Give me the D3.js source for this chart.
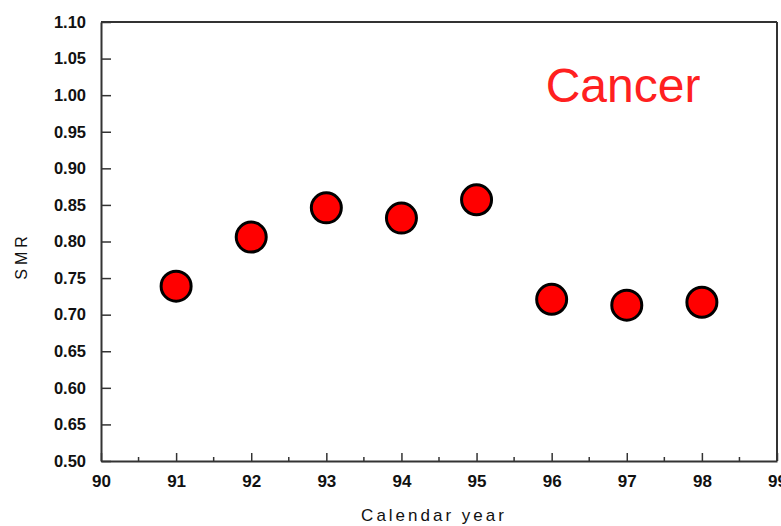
<!DOCTYPE html>
<html>
<head>
<meta charset="utf-8">
<script src="https://cdn.jsdelivr.net/npm/d3@7"></script>
<style>
  html, body { margin: 0; padding: 0; background: #fff; }
  svg { display: block; }
</style>
</head>
<body>
<div id="chart"></div>
<script>
const years = [91, 92, 93, 94, 95, 96, 97, 98];
const smr = [0.739, 0.806, 0.846, 0.832, 0.857, 0.721, 0.713, 0.717];
const xTicks = [90, 91, 92, 93, 94, 95, 96, 97, 98, 99];
const yTicks = [0.50, 0.55, 0.60, 0.65, 0.70, 0.75, 0.80, 0.85, 0.90, 0.95, 1.00, 1.05, 1.10];
const yTickLabels = ["0.50", "0.65", "0.60", "0.65", "0.70", "0.75", "0.80", "0.85", "0.90", "0.95", "1.00", "1.05", "1.10"];
const title = "Cancer";
const xLabel = "Calendar year";
const yLabel = "SMR";

(function () {
const W = 781, H = 526;
const pLeft = 101, pRight = 777, pTop = 22, pBottom = 461;

const svg = d3.select("#chart").append("svg").attr("width", W).attr("height", H);

const x = d3.scaleLinear().domain([90, 99]).range([pLeft, pRight]);
const y = d3.scaleLinear().domain([0.50, 1.10]).range([pBottom, pTop]);

const axisColor = "#333";
const tickFont = "'Liberation Sans', Arial, sans-serif";

// frame (top and right)
svg.append("line").attr("x1", pLeft).attr("x2", pRight).attr("y1", pTop).attr("y2", pTop)
  .attr("stroke", axisColor).attr("stroke-width", 2);
svg.append("line").attr("x1", pRight).attr("x2", pRight).attr("y1", pTop).attr("y2", pBottom)
  .attr("stroke", axisColor).attr("stroke-width", 2);

// x axis
const xAxis = d3.axisBottom(x).tickValues(xTicks).tickFormat(d3.format("d")).tickSizeInner(-8).tickSizeOuter(0).tickPadding(14);
const gx = svg.append("g").attr("transform", `translate(0,${pBottom})`).call(xAxis);
gx.select(".domain").attr("stroke", axisColor).attr("stroke-width", 2);
gx.selectAll(".tick line").attr("stroke", axisColor).attr("stroke-width", 1.5);
gx.selectAll(".tick text").attr("font-family", tickFont).attr("font-weight", "bold")
  .attr("font-size", 17).attr("fill", "#111");

// x minor ticks
const minor = d3.range(90.5, 99, 1);
svg.append("g").selectAll("line").data(minor).join("line")
  .attr("x1", d => x(d)).attr("x2", d => x(d)).attr("y1", pBottom).attr("y2", pBottom - 4)
  .attr("stroke", axisColor).attr("stroke-width", 1.5);

// y axis
const yAxis = d3.axisLeft(y).tickValues(yTicks).tickFormat((d, i) => yTickLabels[i]).tickSizeInner(-10).tickSizeOuter(0).tickPadding(15);
const gy = svg.append("g").attr("transform", `translate(${pLeft},0)`).call(yAxis);
gy.select(".domain").attr("stroke", axisColor).attr("stroke-width", 2);
gy.selectAll(".tick line").attr("stroke", axisColor).attr("stroke-width", 1.5);
gy.selectAll(".tick text").attr("font-family", tickFont).attr("font-weight", "bold")
  .attr("font-size", 16.5).attr("fill", "#111");

// points
svg.append("g").selectAll("circle").data(years).join("circle")
  .attr("cx", d => x(d)).attr("cy", (d, i) => y(smr[i]))
  .attr("r", 15).attr("fill", "#ff0000").attr("stroke", "#000").attr("stroke-width", 3);

// title
svg.append("text").attr("x", 623).attr("y", 102).attr("text-anchor", "middle")
  .attr("font-family", "'Liberation Sans', Arial, sans-serif").attr("font-size", 48)
  .attr("fill", "#ff2020").text(title);

// x label
svg.append("text").attr("x", 434).attr("y", 521).attr("text-anchor", "middle")
  .attr("font-family", "'Liberation Sans', Arial, sans-serif").attr("font-size", 17)
  .attr("letter-spacing", 3).attr("fill", "#111").text(xLabel);

// y label
svg.append("text").attr("transform", "translate(27,256) rotate(-90)").attr("text-anchor", "middle")
  .attr("font-family", "'Liberation Sans', Arial, sans-serif").attr("font-size", 16)
  .attr("letter-spacing", 4).attr("fill", "#111").text(yLabel);
})();
</script>
</body>
</html>
